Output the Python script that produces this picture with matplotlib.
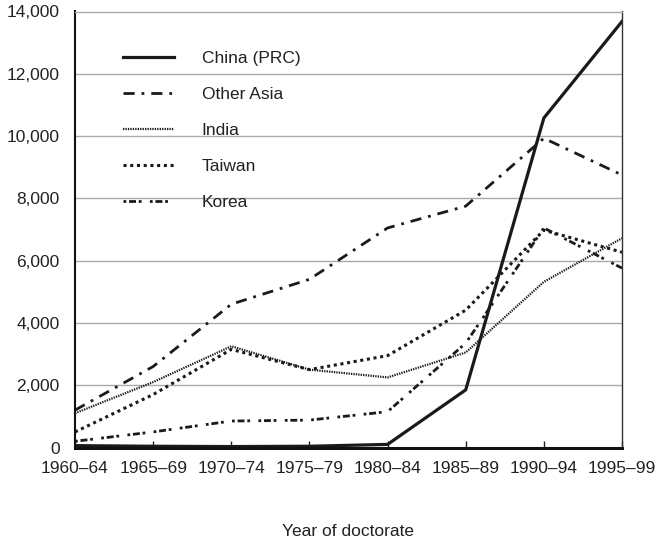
import numpy as np
import matplotlib
matplotlib.use('Agg')
import matplotlib.pyplot as plt

plt.rcParams['font.family'] = ['Liberation Sans', 'DejaVu Sans']

# periodi e valori
periodi = ['1960–64', '1965–69', '1970–74', '1975–79', '1980–84', '1985–89', '1990–94', '1995–99']
china = [60, 40, 30, 40, 100, 1850, 10580, 13680]
other_asia = [1200, 2600, 4600, 5400, 7050, 7750, 9930, 8750]
india = [1100, 2100, 3250, 2500, 2250, 3050, 5320, 6720]
taiwan = [500, 1700, 3150, 2500, 2950, 4410, 6980, 6270]
korea = [200, 500, 850, 880, 1150, 3350, 7050, 5760]

y_ticks = np.arange(0, 14001, 2000)

FS = 12.5

fig = plt.figure(figsize=(6.59, 5.43), dpi=100)
ax = fig.add_axes([75 / 659, 1 - 447.5 / 543, (622 - 75) / 659, 436 / 543])

x = np.arange(len(periodi))
ax.plot(x, china, color='#1a1a1a', lw=2.3, ls='-', label='China (PRC)')
ax.plot(x, other_asia, color='#1a1a1a', lw=2.0, ls=(0, (4, 2.5, 1, 2.5)), label='Other Asia')
ax.plot(x, india, color='#1a1a1a', lw=1.6, ls=(0, (0.6, 0.5)), label='India')
ax.plot(x, taiwan, color='#1a1a1a', lw=2.2, ls=(0, (1, 1.2)), label='Taiwan')
ax.plot(x, korea, color='#1a1a1a', lw=2.0, ls=(0, (1, 1, 2.5, 1, 1, 3)), label='Korea')

ax.set_xlim(0, len(periodi) - 1)
ax.set_ylim(0, 14000)
ax.set_xticks(x)
ax.set_xticklabels(periodi, fontsize=FS)
ax.set_yticks(y_ticks)
ax.set_yticklabels(['{:,}'.format(v) for v in y_ticks], fontsize=FS)
ax.tick_params(axis='x', direction='in', length=5, width=1, pad=10, colors='#222222')
ax.tick_params(axis='y', length=0, pad=11, colors='#222222')

ax.grid(axis='y', color='#aaaaaa', lw=1)
ax.set_axisbelow(True)
ax.spines['left'].set_color('#111111')
ax.spines['left'].set_linewidth(1.5)
ax.spines['bottom'].set_color('#111111')
ax.spines['bottom'].set_linewidth(2.2)
ax.spines['right'].set_color('#333333')
ax.spines['right'].set_linewidth(1.0)
ax.spines['top'].set_color('#aaaaaa')
ax.spines['top'].set_linewidth(1.0)

ax.set_xlabel('Year of doctorate', fontsize=FS, color='#222222', labelpad=34)

leg = ax.legend(loc='upper left', bbox_to_anchor=(0.06, 0.945), frameon=False, fontsize=FS,
                handlelength=2.9, handletextpad=1.6, labelspacing=1.2)
for t in leg.get_texts():
    t.set_color('#222222')

plt.savefig('out.png', dpi=100)
